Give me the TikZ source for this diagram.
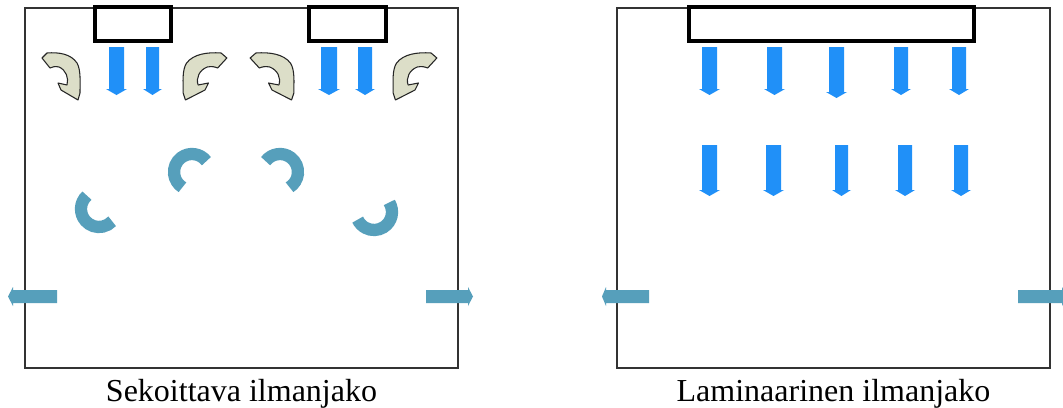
\documentclass[tikz,border=0pt]{standalone}
\usepackage{fontspec}
\setmainfont{Liberation Serif}
\definecolor{jetblue}{HTML}{2090F8}
\definecolor{exhaustteal}{HTML}{569FBB}
\definecolor{swirlbeige}{HTML}{DCDEC8}
\definecolor{wallgray}{HTML}{333333}

% straight supply jet pointing down: x-left, x-right, y-top, y-bottom of shaft
\newcommand\downjet[4]{%
  \fill[jetblue] (#1,#3) -- (#2,#3) -- (#2,#4) -- ({#2+3},#4) -- ({(#1+#2)/2},{#4+6})
    -- ({#1-3},#4) -- (#1,#4) -- cycle;}
% exhaust arrow: shaft from #1 to #2 (x), tip at #3, shaft from y 290 to 303
\newcommand\sidejet[3]{%
  \fill[exhaustteal] (#1,290) -- (#2,290) -- (#2,287) -- (#3,296.5) -- (#2,306)
    -- (#2,303) -- (#1,303) -- cycle;}

\tikzset{
  room/.style={draw=wallgray, line width=1.1pt},
  diffuser/.style={draw=black, line width=2.6pt},
  eddy/.style={draw=exhaustteal, line width=9.2pt},
  swirlfill/.style={fill=swirlbeige, draw=black!85, line width=0.8pt, line join=round},
  caption/.style={anchor=base, font=\fontsize{24}{28}\selectfont, inner sep=0pt},
  % curved recirculation arrow, origin at the top-left of its box
  vortex/.pic={
    \filldraw[swirlfill] (1,6) -- (6,1) .. controls (18,0) and (30,2) .. (36,11)
      .. controls (40,18) and (39,30) .. (39,41) -- (37,48) -- (20,38)
      -- (17,31) -- (26,33) .. controls (28,26) and (25,18) .. (18,15)
      .. controls (14,14) and (11,15) .. (9,16) -- cycle;
  }
}

\begin{document}
\begin{tikzpicture}[x=0.75pt, y=-0.75pt]
\clip (0,0) rectangle (1063,407);
\fill[white] (0,0) rectangle (1063,407);

% ---------- mixing ventilation ----------
\draw[room] (25,8) rectangle (458,368);
\draw[diffuser, fill=white] (95,7) rectangle (171,41);
\draw[diffuser, fill=white] (309,7) rectangle (386,41);

\downjet{109}{124}{47}{89}
\downjet{146}{159}{47}{89}
\downjet{321}{337}{47}{89}
\downjet{358}{372}{47}{89}

\pic at (41,52) {vortex};
\pic[xscale=-1.15] at (228,52) {vortex};
\pic[xscale=1.15] at (249,52) {vortex};
\pic[xscale=-1.15] at (438,52) {vortex};

\draw[eddy] (99,209) ++(228:18) arc[start angle=228, end angle=43, radius=18];
\draw[eddy] (192,172) ++(323:18) arc[start angle=323, end angle=122, radius=18];
\draw[eddy] (280,172) ++(217:18) arc[start angle=217, end angle=418, radius=18];
\draw[eddy] (374,212) ++(328:18) arc[start angle=328, end angle=515, radius=18];

\sidejet{57}{13}{8}
\sidejet{426}{468}{473}

\node[caption] (mixcap) at (241.5,401) {Sekoittava ilmanjako};

% ---------- laminar (displacement) flow ----------
\draw[room] (617,8) rectangle (1050,368);
\draw[diffuser, fill=white] (689,7) rectangle (974,41);

\downjet{702}{717}{47}{89}
\downjet{767}{782}{47}{89}
\downjet{829}{844}{47}{92}
\downjet{894}{908}{47}{89}
\downjet{952}{966}{47}{89}

\downjet{702}{717}{145}{190}
\downjet{766}{781}{145}{190}
\downjet{835}{848}{145}{190}
\downjet{898}{912}{145}{190}
\downjet{954}{968}{145}{190}

\sidejet{649}{606}{602}
\sidejet{1018}{1062}{1067}

\node[caption] (lamcap) at (833.5,401) {Laminaarinen ilmanjako};
\end{tikzpicture}
\end{document}
